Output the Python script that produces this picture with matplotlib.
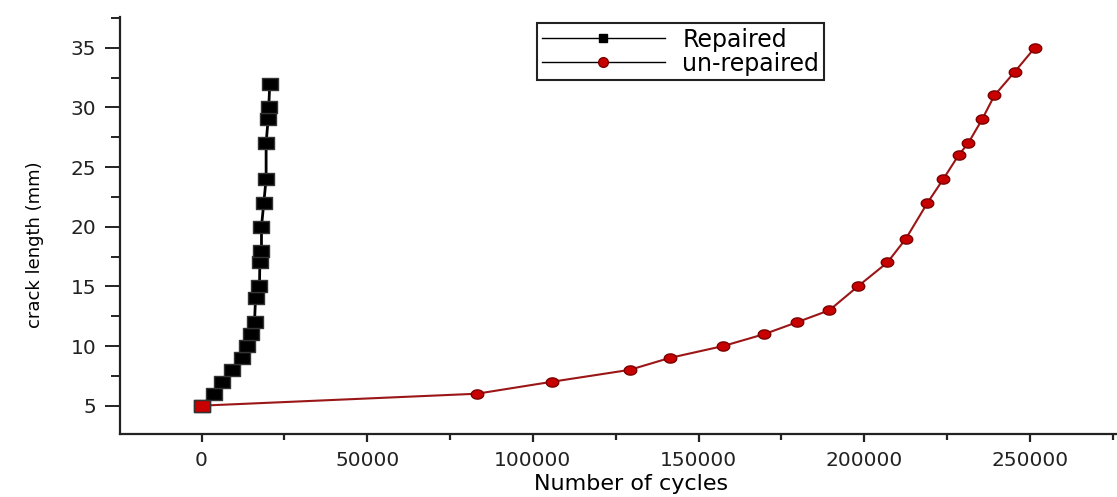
import matplotlib
matplotlib.use('Agg')
import matplotlib.pyplot as plt
from matplotlib.path import Path
from matplotlib.lines import Line2D
from matplotlib.ticker import MultipleLocator
import numpy as np

# crack growth data
rep_cycles = [0, 3700, 6200, 9200, 12200, 13800, 14800, 16000, 16300, 17500,
              17600, 18100, 18100, 18800, 19500, 19500, 20100, 20300, 20600]
rep_crack = [5, 6, 7, 8, 9, 10, 11, 12, 14, 15, 17, 18, 20, 22, 24, 27, 29, 30, 32]

unrep_cycles = [0, 83100, 105700, 129200, 141300, 157500, 169900, 179800, 189500,
                198100, 207000, 212600, 219100, 223900, 228500, 231400, 235600,
                239300, 245500, 251500]
unrep_crack = [5, 6, 7, 8, 9, 10, 11, 12, 13, 15, 17, 19, 22, 24, 26, 27, 29, 31, 33, 35]

# markers a bit wider than tall (the original picture is stretched sideways)
sq = Path([(-0.72, -0.5), (0.72, -0.5), (0.72, 0.5), (-0.72, 0.5), (-0.72, -0.5)],
          [Path.MOVETO, Path.LINETO, Path.LINETO, Path.LINETO, Path.CLOSEPOLY])
t = np.linspace(0, 2 * np.pi, 40)
ell = Path(np.column_stack([0.68 * np.cos(t), 0.5 * np.sin(t)]), closed=True)

plt.rcParams['font.family'] = ['DejaVu Sans']

fig = plt.figure(figsize=(11.17, 4.97), dpi=100)
ax = fig.add_axes([120 / 1117, 1 - 434.3 / 497, 997 / 1117, (434.3 - 16.7) / 497])

red_line = '#9b1616'
red_fill = '#c80000'
red_edge = '#7a0000'

ax.plot(unrep_cycles, unrep_crack, color=red_line, lw=1.5, marker=ell, ms=9,
        mfc=red_fill, mec=red_edge, mew=1, zorder=2)
ax.plot(rep_cycles, rep_crack, color='black', lw=2, marker=sq, ms=12,
        mfc='black', mec='#333333', mew=1, zorder=3)
ax.plot(unrep_cycles[:1], unrep_crack[:1], ls='none', marker=sq, ms=12,
        mfc=red_fill, mec='#333333', mew=1, zorder=4)

ax.set_xlim(-24600, 276300)
ax.set_ylim(2.6, 37.6)
ax.xaxis.set_major_locator(MultipleLocator(50000))
ax.xaxis.set_minor_locator(MultipleLocator(25000))
ax.yaxis.set_major_locator(MultipleLocator(5))
ax.yaxis.set_minor_locator(MultipleLocator(2.5))

ax.spines['top'].set_visible(False)
ax.spines['right'].set_visible(False)
for s in ['left', 'bottom']:
    ax.spines[s].set_linewidth(1.6)
    ax.spines[s].set_color('#222222')

ax.tick_params(axis='y', which='major', direction='out', length=11, width=1.4,
               labelsize=14.5, pad=6, colors='#222222')
ax.tick_params(axis='y', which='minor', direction='out', length=6.5, width=1.4,
               colors='#222222')
ax.tick_params(axis='x', which='major', direction='out', length=6, width=1.6,
               labelsize=14.5, pad=6, colors='#222222')
ax.tick_params(axis='x', which='minor', direction='out', length=4, width=1.6,
               colors='#222222')

ax.set_ylabel('crack length (mm)', fontsize=13)
ax.yaxis.set_label_coords(-0.076, 0.453)
ax.set_xlabel('Number of cycles', fontsize=16)
ax.xaxis.set_label_coords(0.513, -0.094)

handles = [
    Line2D([], [], color='black', lw=1, marker='s', ms=6, mfc='black', mec='black'),
    Line2D([], [], color='black', lw=1, marker='o', ms=7, mfc=red_fill, mec=red_edge),
]
leg = ax.legend(handles, ['Repaired', 'un-repaired'], loc='upper left',
                bbox_to_anchor=(537 / 1117, 1 - 23 / 497), bbox_transform=fig.transFigure,
                fontsize=17, handlelength=5.2, handletextpad=0.75, labelspacing=0.0,
                borderpad=0.2, borderaxespad=0, fancybox=False, framealpha=1,
                edgecolor='#222222')
leg.get_frame().set_linewidth(1.5)

fig.savefig('out.png', dpi=100)
